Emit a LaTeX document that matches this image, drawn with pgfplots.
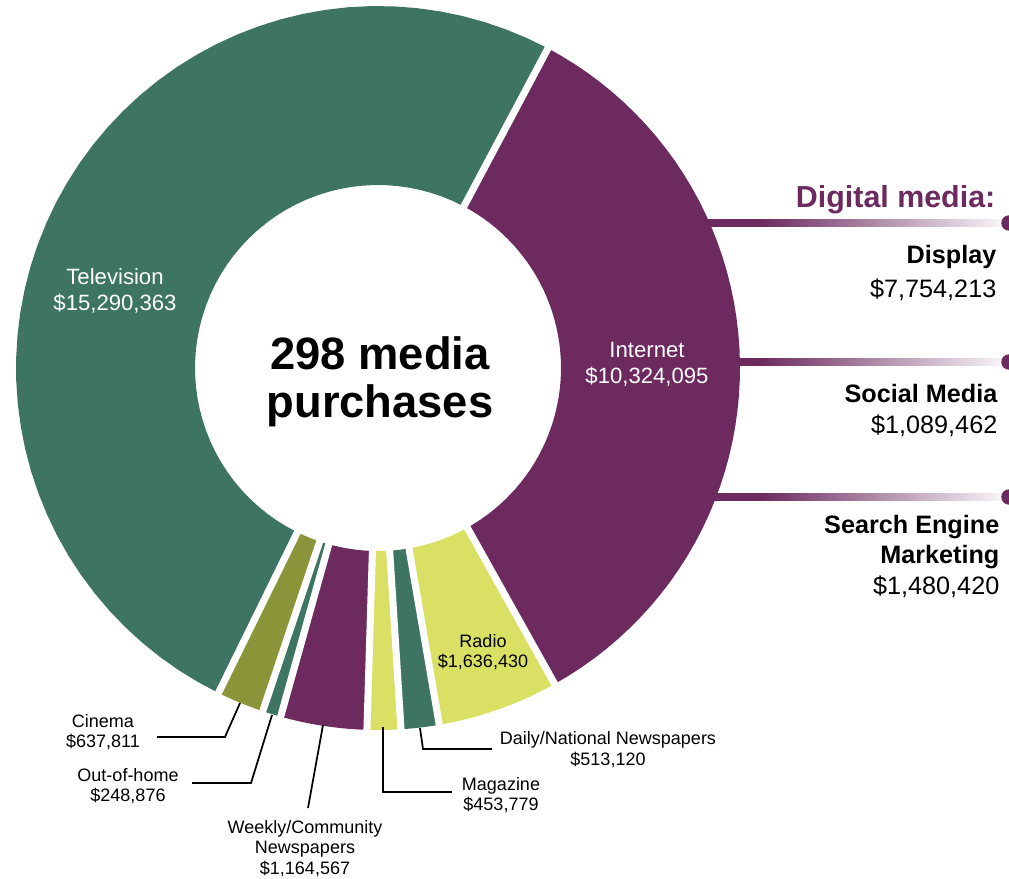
\documentclass[border=0pt]{standalone}
\usepackage{pgfplots}
\pgfplotsset{compat=1.18}
\usepackage{fontspec}
\setmainfont{Liberation Sans}

\definecolor{cGreen}{HTML}{3D7462}
\definecolor{cPurple}{HTML}{6C2A5F}
\definecolor{cLime}{HTML}{D9E063}
\definecolor{cOlive}{HTML}{8A9438}

% media spend, millions of dollars, clockwise from the top
\def\vInternet{10.324095}
\def\vRadio{1.636430}
\def\vDaily{0.513120}
\def\vMagazine{0.453779}
\def\vWeekly{1.164567}
\def\vOutdoor{0.248876}
\def\vCinema{0.637811}
\def\vTelevision{15.290363}

\pgfmathsetmacro\vTotal{\vInternet+\vRadio+\vDaily+\vMagazine+\vWeekly+\vOutdoor+\vCinema+\vTelevision}
\pgfmathsetmacro\aA{62}
\pgfmathsetmacro\aB{\aA-360*\vInternet/\vTotal}
\pgfmathsetmacro\aC{\aB-360*\vRadio/\vTotal}
\pgfmathsetmacro\aD{\aC-360*\vDaily/\vTotal}
\pgfmathsetmacro\aE{\aD-360*\vMagazine/\vTotal}
\pgfmathsetmacro\aF{\aE-360*\vWeekly/\vTotal}
\pgfmathsetmacro\aG{\aF-360*\vOutdoor/\vTotal}
\pgfmathsetmacro\aH{\aG-360*\vCinema/\vTotal}
\pgfmathsetmacro\aI{\aH-360*\vTelevision/\vTotal}

% ring geometry in picture pixels
\def\cx{378}\def\cy{368}\def\ro{362}\def\ri{183}

% one ring segment: from angle, to angle, colour
\newcommand\seg[3]{%
  \addplot[fill=#3, draw=none, domain=0:2.02, samples=102]
    ({\cx+(x<1.01?\ro:\ri)*cos((#1)+((#2)-(#1))*max(0,min(1,(x<1.01?x:2.02-x))))},
     {\cy-(x<1.01?\ro:\ri)*sin((#1)+((#2)-(#1))*max(0,min(1,(x<1.01?x:2.02-x))))});
}
\newcommand\gap[1]{%
  \addplot[white, line width=5.3pt, domain=170:375, samples=2]
    ({\cx+x*cos(#1)},{\cy-x*sin(#1)});
}
\newcommand\digibar[1]{%
  \fill[cPurple] (axis cs:700,#1-3.8) rectangle (axis cs:760,#1+3.8);
  \shade[left color=cPurple, right color=cPurple!6] (axis cs:760,#1-3.8) rectangle (axis cs:1000,#1+3.8);
  \fill[cPurple] (axis cs:1009,#1) circle (5.8pt);
}

\tikzset{
  big/.style={font=\fontsize{34}{40}\selectfont\bfseries, anchor=base},
  mid/.style={font=\fontsize{16.6}{20}\selectfont, anchor=base, text=white},
  sml/.style={font=\fontsize{13.5}{16}\selectfont, anchor=base},
  rb/.style={font=\fontsize{18.9}{22}\selectfont\bfseries, anchor=base east},
  rn/.style={font=\fontsize{18.9}{22}\selectfont, anchor=base east},
  lead/.style={black, line width=1.3pt},
}

\begin{document}
\begin{tikzpicture}
\begin{axis}[
  hide axis, scale only axis,
  width=756.75pt, height=658.5pt,
  xmin=0, xmax=1009, ymin=0, ymax=878, y dir=reverse,
  clip=false,
]
\digibar{223}
\digibar{362}
\digibar{497}

\seg{\aA}{\aB}{cPurple}
\seg{\aB}{\aC}{cLime}
\seg{\aC}{\aD}{cGreen}
\seg{\aD}{\aE}{cLime}
\seg{\aE}{\aF}{cPurple}
\seg{\aF}{\aG}{cGreen}
\seg{\aG}{\aH}{cOlive}
\seg{\aH}{\aI}{cGreen}

\gap{\aA}\gap{\aB}\gap{\aC}\gap{\aD}
\gap{\aE}\gap{\aF}\gap{\aG}\gap{\aH}

% centre
\node[big] at (axis cs:380,369) {298 media};
\node[big] at (axis cs:380,417) {purchases};

% labels inside the ring
\node[mid] at (axis cs:115,284) {Television};
\node[mid] at (axis cs:115,310) {\$15,290,363};
\node[mid] at (axis cs:647,357) {Internet};
\node[mid] at (axis cs:647,383) {\$10,324,095};
\node[sml] at (axis cs:483,647) {Radio};
\node[sml] at (axis cs:483,667) {\$1,636,430};

% small media with leader lines
\draw[lead] (axis cs:240,703) -- (axis cs:225,737) -- (axis cs:157,737);
\node[sml] at (axis cs:103,727) {Cinema};
\node[sml] at (axis cs:103,747) {\$637,811};
\draw[lead] (axis cs:272,715) -- (axis cs:251,783) -- (axis cs:192,783);
\node[sml] at (axis cs:128,781) {Out-of-home};
\node[sml] at (axis cs:128,801) {\$248,876};
\draw[lead] (axis cs:323,725) -- (axis cs:308,808);
\node[sml] at (axis cs:305,833) {Weekly/Community};
\node[sml] at (axis cs:305,853) {Newspapers};
\node[sml] at (axis cs:305,874) {\$1,164,567};
\draw[lead] (axis cs:383,727) -- (axis cs:383,792) -- (axis cs:452,792);
\node[sml] at (axis cs:501,790) {Magazine};
\node[sml] at (axis cs:501,810) {\$453,779};
\draw[lead] (axis cs:420,728) -- (axis cs:423,749) -- (axis cs:492,749);
\node[sml] at (axis cs:608,744) {Daily/National Newspapers};
\node[sml] at (axis cs:608,765) {\$513,120};

% digital media breakdown
\node[font=\fontsize{22.8}{27}\selectfont\bfseries, text=cPurple, anchor=base east] at (axis cs:1000,207) {Digital media:};
\node[rb] at (axis cs:1001,263) {Display};
\node[rn] at (axis cs:1001,297) {\$7,754,213};
\node[rb] at (axis cs:1002,402) {Social Media};
\node[rn] at (axis cs:1002,433) {\$1,089,462};
\node[rb] at (axis cs:1004,533) {Search Engine};
\node[rb] at (axis cs:1004,563) {Marketing};
\node[rn] at (axis cs:1004,594) {\$1,480,420};
\end{axis}
\pgfresetboundingbox
\path (current axis.south west) rectangle (current axis.north east);
\end{tikzpicture}
\end{document}
